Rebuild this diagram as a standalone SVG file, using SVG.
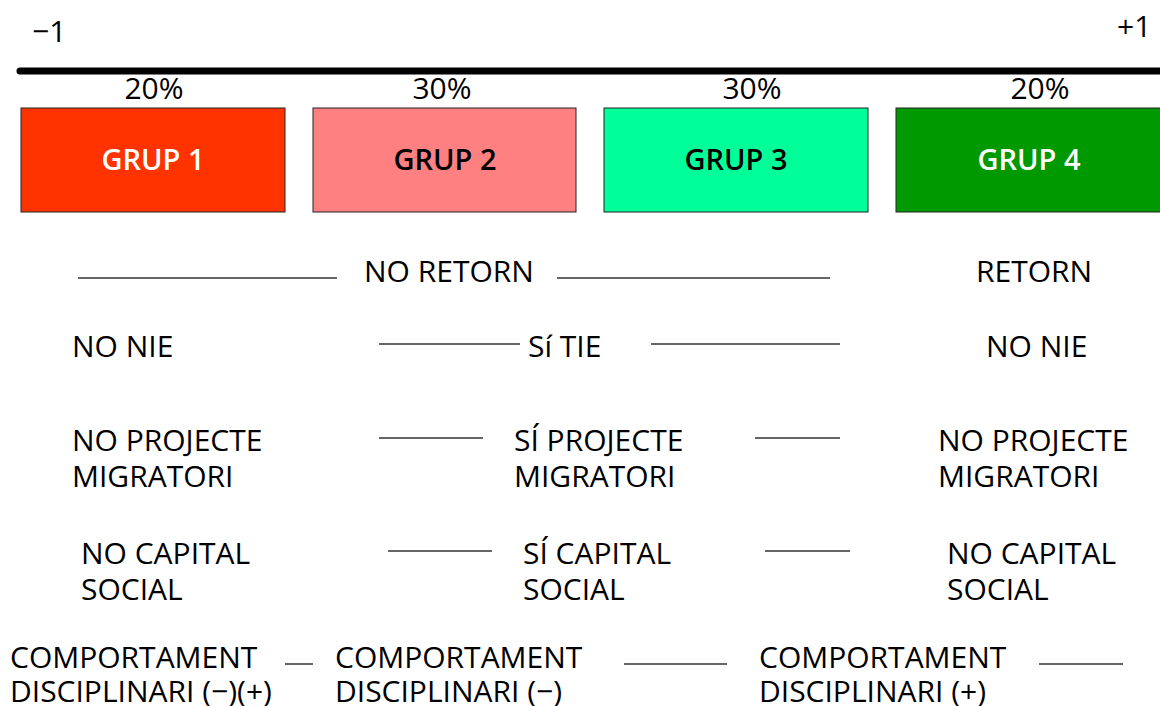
<svg xmlns="http://www.w3.org/2000/svg" width="1160" height="706" viewBox="0 0 1160 706">
<style>
text{font-family:"Open Sans","Noto Sans","DejaVu Sans",sans-serif;font-size:30px;fill:#000}
.c{text-anchor:middle}
.box{stroke:#222;stroke-width:1}
.bt{font-weight:600;font-size:29px;text-anchor:middle}
.w{fill:#fff}
.ln{stroke:#333;stroke-width:1.5}
</style>
<rect width="1160" height="706" fill="#fff"/>
<g id="axis">
<line x1="20" y1="71" x2="1162" y2="71" stroke="#000" stroke-width="7" stroke-linecap="round"/>
<text x="32" y="42">−1</text>
<text x="1117" y="37">+1</text>
<text class="c" x="154" y="99">20%</text>
<text class="c" x="442" y="99">30%</text>
<text class="c" x="752" y="99">30%</text>
<text class="c" x="1040" y="99">20%</text>
</g>
<g id="grup1"><rect class="box" x="21" y="108" width="264" height="104" fill="#FF3300"/><text class="bt w" x="153" y="170">GRUP 1</text></g>
<g id="grup2"><rect class="box" x="313" y="108" width="263" height="104" fill="#FF8080"/><text class="bt" x="445" y="170">GRUP 2</text></g>
<g id="grup3"><rect class="box" x="604" y="108" width="264" height="104" fill="#00FF99"/><text class="bt" x="736" y="170">GRUP 3</text></g>
<g id="grup4"><rect class="box" x="896" y="108" width="266" height="104" fill="#009900"/><text class="bt w" x="1029" y="170">GRUP 4</text></g>
<g id="connectors">
<line class="ln" x1="78" y1="278" x2="337" y2="278"/>
<line class="ln" x1="557" y1="278" x2="830" y2="278"/>
<line class="ln" x1="379" y1="344" x2="520" y2="344"/>
<line class="ln" x1="651" y1="344" x2="840" y2="344"/>
<line class="ln" x1="379" y1="438" x2="483" y2="438"/>
<line class="ln" x1="755" y1="438" x2="840" y2="438"/>
<line class="ln" x1="388" y1="551" x2="492" y2="551"/>
<line class="ln" x1="765" y1="551" x2="850" y2="551"/>
<line class="ln" x1="285" y1="664" x2="313" y2="664"/>
<line class="ln" x1="624" y1="664" x2="727" y2="664"/>
<line class="ln" x1="1039" y1="664" x2="1123" y2="664"/>
</g>
<g id="row-retorn">
<text x="364" y="282">NO RETORN</text>
<text x="976" y="282">RETORN</text>
</g>
<g id="row-nie">
<text x="72" y="357">NO NIE</text>
<text x="528" y="357">Sí TIE</text>
<text x="986" y="357">NO NIE</text>
</g>
<g id="row-projecte">
<text x="72" y="451">NO PROJECTE</text><text x="72" y="487">MIGRATORI</text>
<text x="514" y="451">SÍ PROJECTE</text><text x="514" y="487">MIGRATORI</text>
<text x="938" y="451">NO PROJECTE</text><text x="938" y="487">MIGRATORI</text>
</g>
<g id="row-capital">
<text x="81" y="564">NO CAPITAL</text><text x="81" y="600">SOCIAL</text>
<text x="523" y="564">SÍ CAPITAL</text><text x="523" y="600">SOCIAL</text>
<text x="947" y="564">NO CAPITAL</text><text x="947" y="600">SOCIAL</text>
</g>
<g id="row-comportament">
<text x="10" y="668">COMPORTAMENT</text><text x="10" y="702">DISCIPLINARI (−)(+)</text>
<text x="335" y="668">COMPORTAMENT</text><text x="335" y="702">DISCIPLINARI (−)</text>
<text x="759" y="668">COMPORTAMENT</text><text x="759" y="702">DISCIPLINARI (+)</text>
</g>
</svg>
